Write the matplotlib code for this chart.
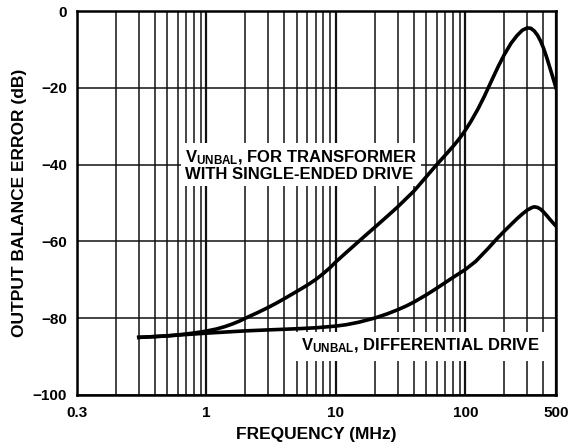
import numpy as np
import matplotlib
matplotlib.use('Agg')
import matplotlib.pyplot as plt
from matplotlib.ticker import FixedLocator, NullFormatter

plt.rcParams['font.family'] = ['Liberation Sans', 'DejaVu Sans']
plt.rcParams['font.weight'] = 'bold'
plt.rcParams['mathtext.fontset'] = 'custom'
plt.rcParams['mathtext.rm'] = 'Liberation Sans:bold'
plt.rcParams['mathtext.default'] = 'rm'

# single-ended drive through transformer
freq_se = [0.3, 0.4, 0.5, 0.6, 0.7, 0.8, 0.9, 1.0, 1.2, 1.4, 1.6, 1.8, 2.0, 2.5,
           3.0, 3.5, 4.0, 5.0, 6.0, 7.0, 8.0, 9.0, 10, 12, 15, 17.5, 20, 25, 30,
           35, 40, 45, 50, 60, 70, 80, 90, 100, 110, 125, 140, 150, 165, 180,
           200, 225, 250, 275, 300, 320, 340, 360, 380, 400, 425, 450, 475, 500]
err_se = [-85.0, -84.8, -84.6, -84.35, -84.1, -83.85, -83.6, -83.35, -82.8,
          -82.15, -81.45, -80.75, -80.0, -78.5, -77.2, -76.0, -74.9, -73.0,
          -71.4, -69.9, -68.35, -66.85, -65.3, -62.9, -60.0, -58.0, -56.3, -53.4,
          -51.0, -48.8, -46.9, -44.9, -43.1, -40.0, -37.5, -35.3, -33.2, -31.0,
          -28.8, -25.5, -22.2, -20.0, -17.0, -14.3, -11.3, -8.4, -6.4, -5.0,
          -4.4, -4.5, -5.2, -6.3, -7.8, -9.6, -12.2, -14.9, -17.5, -20.0]

# differential drive
freq_diff = [0.3, 0.5, 0.7, 1.0, 1.5, 2, 3, 5, 7, 10, 12, 15, 20, 25, 30, 35, 40,
             50, 60, 70, 80, 90, 100, 120, 150, 175, 200, 225, 250, 275, 300,
             325, 340, 360, 380, 400, 425, 450, 475, 500]
err_diff = [-85.0, -84.6, -84.25, -83.9, -83.55, -83.3, -83.05, -82.75, -82.5,
            -82.05, -81.7, -81.05, -79.95, -78.85, -77.8, -76.8, -75.8, -73.9,
            -72.2, -70.7, -69.4, -68.3, -67.3, -65.2, -61.8, -59.3, -57.3,
            -55.6, -54.1, -52.85, -51.85, -51.2, -51.0, -51.15, -51.6, -52.3,
            -53.3, -54.3, -55.2, -56.0]

xtick_pos = [0.1, 1, 10, 100, 500]
xtick_labels = ['0.3', '1', '10', '100', '500']
yticks = [-100, -80, -60, -40, -20, 0]
ytick_labels = ['\u2212100', '\u221280', '\u221260', '\u221240', '\u221220', '0']

fig = plt.figure(figsize=(5.84, 4.44), dpi=100)
ax = fig.add_axes([0.1318, 0.1104, 0.8202, 0.8648])

ax.set_xscale('log')
ax.set_xlim(0.1, 500)
ax.set_ylim(-100, 0)

ax.xaxis.set_major_locator(FixedLocator(xtick_pos))
ax.set_xticklabels(xtick_labels)
minors = [m * d for d in [0.1, 1, 10, 100] for m in range(2, 10) if m * d < 500]
ax.xaxis.set_minor_locator(FixedLocator(minors))
ax.xaxis.set_minor_formatter(NullFormatter())
ax.set_yticks(yticks)
ax.set_yticklabels(ytick_labels)

ax.grid(True, which='major', axis='x', color='#111111', lw=1.6)
ax.grid(True, which='minor', axis='x', color='#111111', lw=1.1)
ax.grid(True, which='major', axis='y', color='#111111', lw=1.1)
ax.tick_params(which='both', length=0, labelsize=11)
ax.tick_params(axis='y', pad=7)
ax.tick_params(axis='x', pad=8)
for s in ax.spines.values():
    s.set_linewidth(1.8)

ax.plot(freq_se, err_se, color='black', lw=2.6, zorder=5)
ax.plot(freq_diff, err_diff, color='black', lw=2.6, zorder=5)

ax.text(0.68, -40.2, 'V$_{UNBAL}$, FOR TRANSFORMER\nWITH SINGLE-ENDED DRIVE',
        fontsize=12, fontweight='bold', ha='left', va='center', linespacing=0.95,
        bbox=dict(facecolor='white', edgecolor='none', pad=3), zorder=4)
ax.text(5.4, -87.3, 'V$_{UNBAL}$, DIFFERENTIAL DRIVE',
        fontsize=12, fontweight='bold', ha='left', va='center',
        bbox=dict(facecolor='white', edgecolor='none', pad=4), zorder=4)

ax.set_xlabel('FREQUENCY (MHz)', fontsize=12.5, fontweight='bold', labelpad=5)
ax.set_ylabel('OUTPUT BALANCE ERROR (dB)', fontsize=12.5, fontweight='bold', labelpad=4)

fig.savefig('out.png', dpi=100)
